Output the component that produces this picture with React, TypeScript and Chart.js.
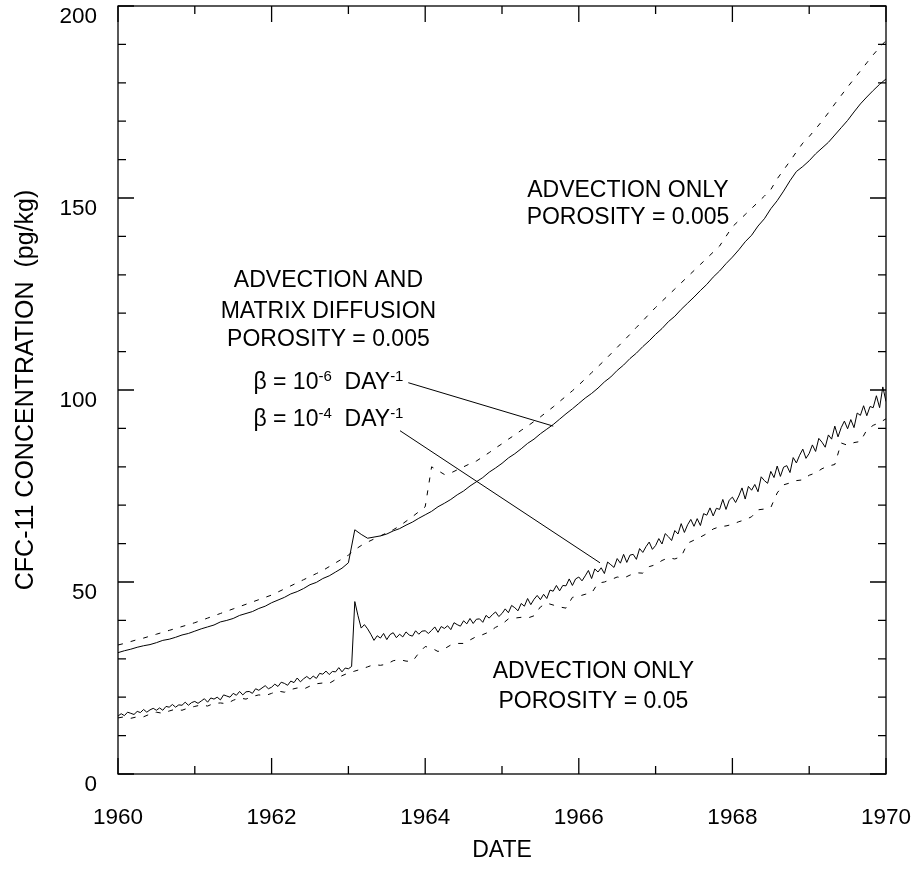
import { useEffect, useRef } from "react";
import { Chart, registerables } from "chart.js";

Chart.register(...registerables);

const FONT_FAMILY = '"Liberation Sans", Arial, Helvetica, sans-serif';

// Sampling grids in decimal years
const monthlyDates = Array.from({ length: 121 }, (_, i) => 1960 + i / 12);
const halfMonthDates = Array.from({ length: 241 }, (_, i) => 1960 + i / 24);

// Advection and matrix diffusion, porosity 0.005, beta = 1e-6 /day (monthly)
const upperDiffusion = [
  31.6, 32.1, 32.5, 33.0, 33.4, 33.7, 34.2, 34.8, 35.1, 35.6, 36.2, 36.6,
  37.2, 37.8, 38.3, 38.8, 39.6, 40.0, 40.5, 41.3, 41.8, 42.3, 43.1, 43.7,
  44.6, 45.3, 46.0, 46.9, 47.5, 48.3, 49.3, 49.9, 50.9, 51.6, 52.6, 53.6,
  55.0, 63.6, 62.4, 61.4, 61.7, 62.0, 62.5, 63.3, 63.9, 64.8, 65.6, 66.6,
  67.5, 68.4, 69.6, 70.5, 71.5, 72.7, 73.7, 75.0, 76.1, 77.2, 78.6, 79.7,
  80.9, 82.3, 83.4, 84.7, 86.1, 87.2, 88.6, 89.8, 91.0, 92.4, 93.8, 95.1,
  96.5, 97.9, 99.1, 100.5, 102.1, 103.4, 105.1, 106.5, 108.2, 109.6, 111.3, 112.8,
  114.5, 116.0, 117.8, 119.2, 121.0, 122.6, 124.2, 125.9, 127.5, 129.4, 131.0, 132.9,
  134.6, 136.5, 138.6, 140.3, 142.7, 144.6, 147.2, 149.3, 151.8, 154.5, 156.9, 158.2,
  159.7, 161.5, 163.0, 164.5, 166.4, 168.3, 170.2, 172.4, 174.5, 176.3, 178.0, 179.6,
  181.0,
];

// Advection only, porosity 0.005 (monthly)
const upperAdvection = [
  33.6, 34.0, 34.5, 35.0, 35.4, 35.9, 36.4, 36.9, 37.4, 37.9, 38.4, 38.9,
  39.4, 40.0, 40.6, 41.2, 41.8, 42.4, 43.0, 43.6, 44.2, 44.8, 45.4, 46.0,
  46.6, 47.4, 48.2, 49.0, 49.8, 50.6, 51.4, 52.2, 53.0, 54.0, 55.0, 56.0,
  57.0, 58.4, 59.5, 60.4, 61.2, 62.0, 62.8, 63.6, 64.6, 65.8, 67.0, 68.3,
  69.6, 80.0, 79.0, 78.0, 78.4, 79.2, 80.0, 80.8, 81.5, 82.6, 83.7, 84.9,
  86.0, 87.2, 88.3, 89.5, 90.6, 91.8, 93.0, 94.3, 95.6, 97.0, 98.4, 99.8,
  101.3, 102.9, 104.5, 106.1, 107.7, 109.4, 111.1, 112.8, 114.5, 116.3, 118.0, 119.8,
  121.5, 123.1, 124.7, 126.3, 127.9, 129.5, 131.1, 132.7, 134.3, 135.9, 137.5, 140.0,
  142.5, 144.1, 145.7, 147.3, 148.9, 150.5, 152.2, 155.0, 157.3, 159.6, 162.0, 164.3,
  166.0, 168.0, 170.0, 172.2, 174.5, 176.7, 178.9, 181.0, 183.1, 185.2, 187.3, 189.2,
  191.0,
];

// Advection and matrix diffusion, porosity 0.005, beta = 1e-4 /day (half-monthly)
const lowerDiffusion = [
  15.1, 15.7, 15.2, 16.1, 15.8, 15.5, 16.3, 16.0, 16.8, 16.1, 16.7, 17.1,
  16.6, 17.2, 16.6, 17.6, 17.4, 18.1, 17.4, 18.0, 17.9, 18.7, 17.9, 18.6,
  18.9, 18.4, 19.0, 19.6, 18.7, 19.8, 19.5, 20.0, 19.3, 20.6, 20.3, 20.0,
  21.0, 20.5, 21.5, 20.6, 21.4, 21.5, 21.0, 22.2, 21.8, 22.4, 23.0, 22.2,
  22.6, 23.4, 22.8, 23.9, 23.6, 23.1, 24.2, 23.8, 25.0, 24.0, 24.8, 25.4,
  24.7, 25.5, 24.9, 26.2, 26.0, 26.8, 25.9, 26.7, 26.6, 27.7, 26.6, 27.6,
  27.4, 28.0, 44.9, 41.2, 38.0, 38.9, 37.8, 36.4, 34.8, 36.0, 35.4, 36.6,
  35.0, 36.3, 36.8, 35.5, 36.4, 35.7, 37.0, 36.2, 35.9, 37.3, 36.4, 37.2,
  37.3, 36.6, 37.4, 38.3, 36.9, 38.4, 37.9, 38.6, 37.6, 39.4, 38.9, 38.5,
  39.9, 39.1, 40.5, 39.2, 40.3, 40.4, 39.5, 41.3, 40.6, 41.5, 42.2, 41.0,
  41.8, 43.0, 42.0, 43.9, 43.3, 42.5, 44.4, 43.7, 45.7, 44.1, 45.5, 46.5,
  45.4, 46.8, 45.7, 47.9, 47.6, 49.1, 47.7, 49.1, 49.0, 50.8, 49.1, 50.8,
  51.3, 50.3, 51.6, 53.0, 50.9, 53.4, 52.6, 53.7, 52.2, 55.2, 54.5, 53.8,
  56.1, 54.9, 57.2, 55.1, 57.0, 57.2, 55.9, 58.7, 57.7, 59.2, 60.4, 58.5,
  59.5, 61.3, 59.9, 62.6, 61.8, 60.8, 63.4, 62.5, 65.2, 62.9, 64.9, 66.3,
  64.5, 66.5, 64.7, 67.8, 67.4, 69.3, 67.2, 69.2, 68.9, 71.5, 68.9, 71.3,
  72.1, 70.7, 72.4, 74.5, 71.6, 74.9, 73.9, 75.4, 73.5, 77.4, 76.4, 75.7,
  78.8, 77.2, 80.2, 77.5, 79.9, 80.3, 78.5, 82.4, 81.0, 83.0, 84.6, 82.2,
  83.5, 85.7, 84.0, 87.4, 86.4, 85.1, 88.3, 87.2, 90.6, 87.8, 90.2, 91.9,
  89.9, 92.3, 90.2, 94.0, 93.4, 95.9, 93.3, 95.7, 95.4, 98.5, 95.4, 100.8,
  97.0,
];

// Advection only, porosity 0.05 (monthly)
const lowerAdvection = [
  14.6, 14.9, 14.5, 14.9, 14.9, 15.6, 16.1, 15.8, 16.4, 16.9, 16.6, 17.2,
  17.6, 18.0, 17.7, 18.4, 18.5, 18.3, 19.2, 19.8, 19.5, 20.2, 20.6, 20.4,
  21.0, 21.6, 21.3, 22.0, 22.4, 22.1, 22.9, 23.5, 23.7, 23.6, 24.6, 25.6,
  26.3, 26.8, 27.3, 27.9, 28.5, 28.3, 28.6, 29.5, 29.8, 29.4, 29.3, 31.5,
  33.2, 32.8, 31.9, 32.6, 33.6, 34.0, 34.0, 34.9, 35.8, 36.3, 37.0, 38.2,
  39.0, 40.4, 40.6, 40.8, 40.6, 41.2, 43.5, 44.5, 44.0, 43.5, 43.2, 46.0,
  46.3, 46.8, 47.1, 49.7, 50.0, 50.6, 51.3, 51.0, 51.8, 52.4, 52.3, 54.0,
  54.5, 55.6, 56.3, 56.0, 56.6, 60.1, 60.9, 61.7, 62.6, 63.8, 64.4, 64.6,
  65.0, 65.7, 66.2, 67.0, 68.8, 69.0, 69.4, 73.2, 75.3, 75.8, 76.4, 76.6,
  77.8, 78.4, 79.5, 80.2, 80.6, 86.2, 85.6, 86.3, 86.6, 89.6, 90.8, 91.5,
  92.5,
];

// Axis ticks
const xLabelYears = [1960, 1962, 1964, 1966, 1968, 1970];
const xMinorYears = [1961, 1963, 1965, 1967, 1969];
const yLabelValues = [0, 50, 100, 150, 200];
const yMinorValues = [10, 20, 30, 40, 60, 70, 80, 90, 110, 120, 130, 140, 160, 170, 180, 190];

// Curve labels (anchor = centre of the baseline, in year / pg/kg)
const noteLines = [
  { text: "ADVECTION ONLY", year: 1966.64, value: 150.2 },
  { text: "POROSITY = 0.005", year: 1966.64, value: 143.3 },
  { text: "ADVECTION AND", year: 1962.74, value: 126.9 },
  { text: "MATRIX DIFFUSION", year: 1962.74, value: 118.7 },
  { text: "POROSITY = 0.005", year: 1962.74, value: 111.5 },
  { text: "ADVECTION ONLY", year: 1966.19, value: 25.1 },
  { text: "POROSITY = 0.05", year: 1966.19, value: 17.1 },
];
const betaLabels = [
  { exponent: "-6", year: 1962.74, value: 100.2 },
  { exponent: "-4", year: 1962.74, value: 90.6 },
];
const leaderLines = [
  { fromYear: 1963.78, fromValue: 101.9, toYear: 1965.667, toValue: 90.6 },
  { fromYear: 1963.672, fromValue: 89.4, toYear: 1966.276, toValue: 55.0 },
];

const toPoints = (dates: number[], values: number[]) =>
  values.map((v, i) => ({ x: dates[i], y: v }));

const frameAndNotes = {
  id: "frameAndNotes",
  afterDatasetsDraw(chart: any) {
    const { ctx, chartArea } = chart;
    const xs = chart.scales.x;
    const ys = chart.scales.y;
    const { left, right, top, bottom } = chartArea;
    ctx.save();
    ctx.strokeStyle = "#000";
    ctx.lineWidth = 1.3;
    ctx.setLineDash([]);
    ctx.strokeRect(left, top, right - left, bottom - top);

    ctx.beginPath();
    const xTick = (year: number, len: number) => {
      const px = xs.getPixelForValue(year);
      ctx.moveTo(px, bottom);
      ctx.lineTo(px, bottom - len);
      ctx.moveTo(px, top);
      ctx.lineTo(px, top + len);
    };
    const yTick = (val: number, len: number) => {
      const py = ys.getPixelForValue(val);
      ctx.moveTo(left, py);
      ctx.lineTo(left + len, py);
      ctx.moveTo(right, py);
      ctx.lineTo(right - len, py);
    };
    xLabelYears.forEach((y) => xTick(y, 16));
    xMinorYears.forEach((y) => xTick(y, 8));
    yLabelValues.forEach((v) => yTick(v, 16));
    yMinorValues.forEach((v) => yTick(v, 8));
    ctx.stroke();

    // leader lines from the beta labels to their curves
    ctx.lineWidth = 1;
    ctx.beginPath();
    leaderLines.forEach((l) => {
      ctx.moveTo(xs.getPixelForValue(l.fromYear), ys.getPixelForValue(l.fromValue));
      ctx.lineTo(xs.getPixelForValue(l.toYear), ys.getPixelForValue(l.toValue));
    });
    ctx.stroke();

    // curve labels
    ctx.fillStyle = "#000";
    ctx.textBaseline = "alphabetic";
    ctx.textAlign = "center";
    const mainFont = `23px ${FONT_FAMILY}`;
    const supFont = `15px ${FONT_FAMILY}`;
    ctx.font = mainFont;
    noteLines.forEach((n) => {
      ctx.fillText(n.text, xs.getPixelForValue(n.year), ys.getPixelForValue(n.value));
    });

    ctx.textAlign = "left";
    betaLabels.forEach((b) => {
      const parts = [
        { t: "\u03B2 = 10", sup: false },
        { t: b.exponent, sup: true },
        { t: "  DAY", sup: false },
        { t: "-1", sup: true },
      ];
      const widths = parts.map((p) => {
        ctx.font = p.sup ? supFont : mainFont;
        return ctx.measureText(p.t).width;
      });
      const total = widths.reduce((a, w) => a + w, 0);
      let px = xs.getPixelForValue(b.year) - total / 2;
      const py = ys.getPixelForValue(b.value);
      parts.forEach((p, i) => {
        ctx.font = p.sup ? supFont : mainFont;
        ctx.fillText(p.t, px, p.sup ? py - 8 : py);
        px += widths[i];
      });
    });
    ctx.restore();
  },
};

export default function App() {
  const canvasRef = useRef<HTMLCanvasElement | null>(null);

  useEffect(() => {
    if (!canvasRef.current) return;
    const solid = { borderColor: "#000", borderWidth: 1, pointRadius: 0, tension: 0, fill: false };
    const dashed = { ...solid, borderDash: [5, 8] };
    const chart = new Chart(canvasRef.current, {
      type: "line",
      data: {
        datasets: [
          { label: "Advection and matrix diffusion, \u03B2 = 1e-6", data: toPoints(monthlyDates, upperDiffusion), ...solid },
          { label: "Advection only, porosity 0.005", data: toPoints(monthlyDates, upperAdvection), ...dashed },
          { label: "Advection and matrix diffusion, \u03B2 = 1e-4", data: toPoints(halfMonthDates, lowerDiffusion), ...solid },
          { label: "Advection only, porosity 0.05", data: toPoints(monthlyDates, lowerAdvection), ...dashed },
        ],
      },
      options: {
        responsive: false,
        animation: false,
        events: [],
        layout: { padding: { left: 0, top: 6, right: 28, bottom: 0 } },
        plugins: { legend: { display: false }, tooltip: { enabled: false } },
        scales: {
          x: {
            type: "linear",
            position: "bottom",
            min: 1960,
            max: 1970,
            grid: { display: false },
            border: { display: false },
            ticks: {
              stepSize: 2,
              autoSkip: false,
              maxRotation: 0,
              padding: 22,
              color: "#000",
              font: { family: FONT_FAMILY, size: 22.5 },
              callback: (v: any) => String(v),
            },
            title: {
              display: true,
              text: "DATE",
              color: "#000",
              font: { family: FONT_FAMILY, size: 23 },
              padding: { top: 0, bottom: 5 },
            },
            afterFit: (s: any) => {
              s.height = 95;
              s.paddingLeft = 0;
              s.paddingRight = 0;
            },
          },
          y: {
            type: "linear",
            position: "left",
            min: 0,
            max: 200,
            grid: { display: false },
            border: { display: false },
            ticks: {
              stepSize: 50,
              padding: 13,
              labelOffset: 10.5,
              color: "#000",
              font: { family: FONT_FAMILY, size: 22.5 },
            },
            title: {
              display: true,
              text: "CFC-11 CONCENTRATION  (pg/kg)",
              color: "#000",
              font: { family: FONT_FAMILY, size: 25 },
              padding: { top: 11, bottom: 0 },
            },
            afterFit: (s: any) => {
              s.width = 118;
              s.paddingTop = 0;
              s.paddingBottom = 0;
            },
          },
        },
      },
      plugins: [frameAndNotes],
    } as any);
    return () => chart.destroy();
  }, []);

  return (
    <div style={{ position: "fixed", left: 0, top: 0, width: 914, height: 869, background: "#fff" }}>
      <canvas ref={canvasRef} width={914} height={869} />
    </div>
  );
}
